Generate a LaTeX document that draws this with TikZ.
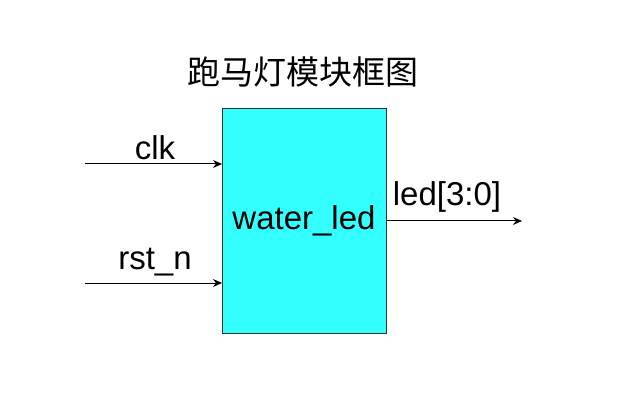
\documentclass[tikz,border=0pt]{standalone}
\usetikzlibrary{arrows.meta}
\usepackage{fontspec}
\setmainfont{Liberation Sans}
\newfontfamily\cjk{Noto Sans CJK SC}
\begin{document}
\begin{tikzpicture}[x=1pt,y=-1pt,
  lbl/.style={font=\fontsize{33}{36}\selectfont, inner sep=0},
  arr/.style={-{Stealth[length=9pt,width=8pt]}, line width=1pt}]
\useasboundingbox (0,0) rectangle (638,401);
\node[draw=black!80, fill={rgb,255:red,51;green,255;blue,255}, minimum width=164pt, minimum height=225pt, anchor=north west, inner sep=0, line width=1pt] (box) at (222,108) {};
\node[lbl] (name) at (304,221) {water\_led};
\node[font=\cjk\fontsize{33}{36}\selectfont] (title) at (303,72) {跑马灯模块框图};
\coordinate (c0) at (85,164);
\coordinate (r0) at (85,283);
\coordinate (o1) at (522,221);
\draw[arr] (c0) -- (c0 -| box.west);
\draw[arr] (r0) -- (r0 -| box.west);
\draw[arr] (box.east |- o1) -- (o1);
\node[lbl] (clk) at (155,148) {clk};
\node[lbl] (rst) at (155,262) {rst\_n};
\node[lbl] (led) at (447,197) {led[3:0]};
\end{tikzpicture}
\end{document}
